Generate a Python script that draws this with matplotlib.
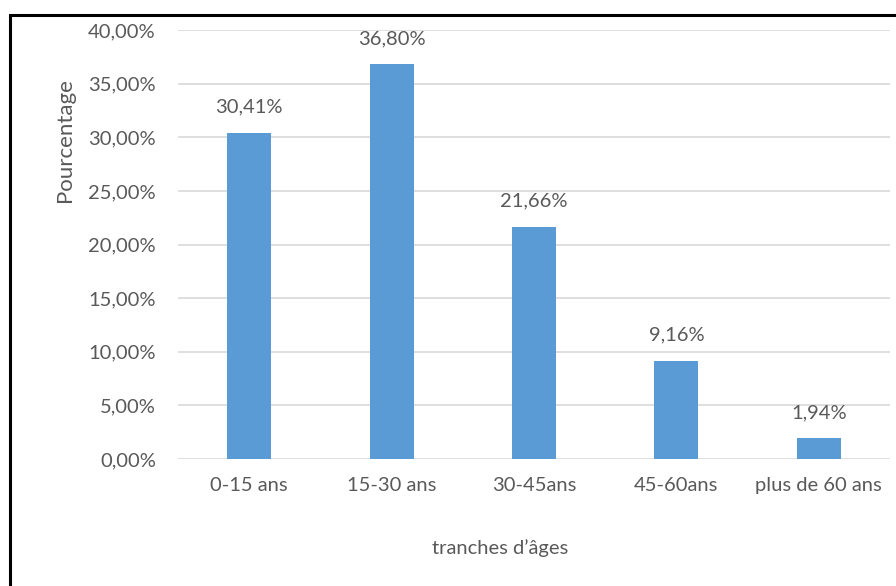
import matplotlib.pyplot as plt
from matplotlib.patches import Rectangle
from matplotlib.ticker import FuncFormatter

categories = ["0-15 ans", "15-30 ans", "30-45ans", "45-60ans", "plus de 60 ans"]
values = [30.41, 36.80, 21.66, 9.16, 1.94]
yticks = [0, 5, 10, 15, 20, 25, 30, 35, 40]

plt.rcParams['font.family'] = ['Lato', 'DejaVu Sans']
txt = '#595959'
fs = 14.5

fig = plt.figure(figsize=(8.96, 5.86), dpi=100)
ax = fig.add_axes([0.1987, 0.2167, 0.7946, 0.7321])

# chart frame (open on right and bottom)
fig.patches.append(Rectangle((10 / 896, -0.1), 1.2, 1 - 15 / 586 + 0.1,
                             transform=fig.transFigure, fill=False,
                             edgecolor='black', linewidth=2.2))

x = range(len(categories))
ax.bar(x, values, width=0.31, color='#5B9BD5', zorder=3)
for xi, v in zip(x, values):
    ax.text(xi, v + 1.6, f"{v:.2f}%".replace('.', ','), ha='center', va='bottom',
            fontsize=fs, color=txt)

ax.set_xlim(-0.5, len(categories) - 0.5)
ax.set_ylim(0, 40)
ax.set_yticks(yticks)
ax.yaxis.set_major_formatter(FuncFormatter(lambda v, p: f"{v:.2f}%".replace('.', ',')))
ax.set_xticks(list(x))
ax.set_xticklabels(categories)
ax.tick_params(length=0, labelsize=fs, labelcolor=txt)
ax.tick_params(axis='y', pad=16)
ax.tick_params(axis='x', pad=13)
ax.grid(axis='y', color='#D9D9D9', linewidth=1.2, zorder=0)
for s in ax.spines.values():
    s.set_visible(False)

fig.text(65 / 896, 1 - 140 / 586, "Pourcentage", rotation=90, ha='center', va='center',
         fontsize=16, color=txt)
fig.text(500 / 896, 1 - 548 / 586, "tranches d’âges", ha='center', va='center',
         fontsize=fs, color=txt)

fig.savefig("out.png", dpi=100)
